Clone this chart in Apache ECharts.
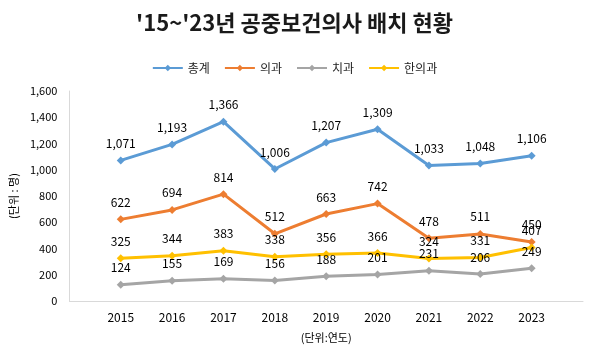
<!DOCTYPE html>
<html><head><meta charset="utf-8">
<script src="https://cdn.jsdelivr.net/npm/echarts@6/dist/echarts.min.js"></script>
<style>html,body{margin:0;padding:0;background:#fff}#c{width:589px;height:358px}</style>
</head><body><div id="c"></div>
<script>
var years = [2015, 2016, 2017, 2018, 2019, 2020, 2021, 2022, 2023];
var seriesNames = ['총계', '의과', '치과', '한의과'];
var totalVals = [1071, 1193, 1366, 1006, 1207, 1309, 1033, 1048, 1106];
var medVals = [622, 694, 814, 512, 663, 742, 478, 511, 450];
var dentVals = [124, 155, 169, 156, 188, 201, 231, 206, 249];
var orientVals = [325, 344, 383, 338, 356, 366, 324, 331, 407];
var colors = ['#5B9BD5', '#ED7D31', '#A5A5A5', '#FFC000'];
var FONT = '"Noto Sans CJK KR", "Noto Sans", sans-serif';

function pairs(v) { return years.map(function (y, i) { return [y, v[i]]; }); }
function fmt(n) { return n.toLocaleString('en-US'); }

var allVals = [totalVals, medVals, dentVals, orientVals];
var series = allVals.map(function (v, i) {
  return {
    name: seriesNames[i], type: 'line', data: pairs(v),
    symbol: 'diamond', symbolSize: 8,
    lineStyle: { width: 3, color: colors[i] },
    itemStyle: { color: colors[i] },
    label: { show: true, position: 'top', distance: 7, color: '#000', fontSize: 12, fontFamily: FONT,
      formatter: function (p) { return fmt(p.value[1]); } }
  };
});

var chart = echarts.init(document.getElementById('c'));
chart.setOption({
  animation: false,
  textStyle: { fontFamily: FONT },
  title: { text: "'15~'23년 공중보건의사 배치 현황", left: 'center', top: 7,
    textStyle: { fontSize: 22, fontWeight: 'bold', color: '#1a1a1a', fontFamily: FONT } },
  legend: { top: 57, left: 'center', itemWidth: 30, itemHeight: 8, itemGap: 14,
    textStyle: { fontSize: 12, color: '#222', fontFamily: FONT },
    data: seriesNames },
  grid: { left: 69, right: 6, top: 91, bottom: 57 },
  xAxis: { type: 'value', min: 2014, max: 2024, interval: 1,
    name: '(단위:연도)', nameLocation: 'middle', nameGap: 31,
    nameTextStyle: { fontSize: 11, color: '#000', fontFamily: FONT },
    axisLine: { show: true, lineStyle: { color: '#d9d9d9', width: 1 } },
    axisTick: { show: false }, splitLine: { show: false },
    axisLabel: { fontSize: 12, color: '#000', margin: 10,
      formatter: function (v) { return (v >= years[0] && v <= years[years.length - 1]) ? String(v) : ''; } } },
  yAxis: { type: 'value', min: 0, max: 1600, interval: 200,
    name: '(단위 : 명)', nameLocation: 'middle', nameGap: 47, nameRotate: 90,
    nameTextStyle: { fontSize: 11, color: '#000', fontFamily: FONT },
    axisLine: { show: true, lineStyle: { color: '#d9d9d9', width: 1 } },
    axisTick: { show: false }, splitLine: { show: false },
    axisLabel: { fontSize: 11, color: '#000', margin: 12, formatter: function (v) { return fmt(v); } } },
  series: series
});
</script></body></html>
